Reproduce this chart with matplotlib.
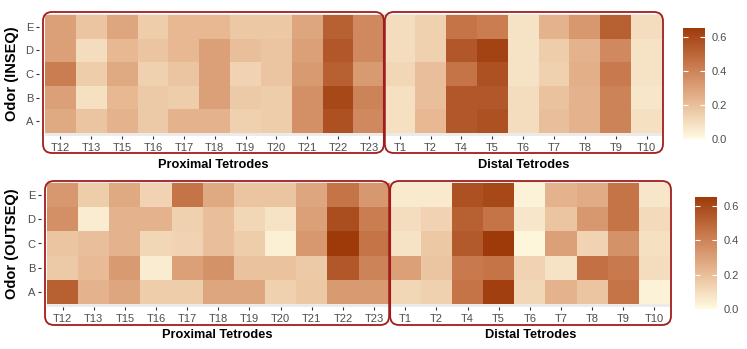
import numpy as np
import matplotlib.pyplot as plt
from matplotlib.colors import LinearSegmentedColormap
from matplotlib.patches import FancyBboxPatch
from matplotlib.transforms import IdentityTransform

plt.rcParams['font.family'] = ['Liberation Sans', 'DejaVu Sans']

proximal = ["T12", "T13", "T15", "T16", "T17", "T18", "T19", "T20", "T21", "T22", "T23"]
distal = ["T1", "T2", "T4", "T5", "T6", "T7", "T8", "T9", "T10"]
odors = ["A", "B", "C", "D", "E"]

# rows: odor A..E
inseq_prox = [
    [0.27, 0.18, 0.24, 0.16, 0.24, 0.24, 0.14, 0.15, 0.36, 0.57, 0.38],
    [0.30, 0.09, 0.22, 0.16, 0.15, 0.30, 0.16, 0.15, 0.36, 0.60, 0.40],
    [0.42, 0.15, 0.27, 0.14, 0.18, 0.30, 0.13, 0.18, 0.32, 0.52, 0.32],
    [0.30, 0.10, 0.22, 0.18, 0.22, 0.30, 0.20, 0.18, 0.30, 0.55, 0.38],
    [0.30, 0.18, 0.28, 0.15, 0.22, 0.22, 0.17, 0.17, 0.28, 0.52, 0.38],
]
inseq_dist = [
    [0.09, 0.22, 0.55, 0.57, 0.10, 0.20, 0.24, 0.40, 0.09],
    [0.09, 0.20, 0.55, 0.55, 0.10, 0.19, 0.24, 0.40, 0.07],
    [0.12, 0.20, 0.45, 0.57, 0.08, 0.14, 0.25, 0.43, 0.08],
    [0.10, 0.14, 0.55, 0.62, 0.08, 0.15, 0.24, 0.38, 0.08],
    [0.10, 0.14, 0.45, 0.42, 0.08, 0.24, 0.33, 0.52, 0.10],
]
outseq_prox = [
    [0.52, 0.24, 0.28, 0.15, 0.15, 0.28, 0.28, 0.14, 0.17, 0.32, 0.32],
    [0.16, 0.21, 0.32, 0.05, 0.30, 0.35, 0.19, 0.19, 0.16, 0.55, 0.40],
    [0.18, 0.20, 0.24, 0.12, 0.13, 0.20, 0.15, 0.04, 0.33, 0.66, 0.45],
    [0.36, 0.05, 0.24, 0.24, 0.14, 0.20, 0.12, 0.08, 0.30, 0.58, 0.42],
    [0.33, 0.15, 0.27, 0.13, 0.45, 0.27, 0.18, 0.18, 0.28, 0.45, 0.33],
]
outseq_dist = [
    [0.12, 0.14, 0.45, 0.63, 0.12, 0.24, 0.18, 0.45, 0.03],
    [0.30, 0.18, 0.43, 0.45, 0.13, 0.08, 0.46, 0.43, 0.10],
    [0.08, 0.17, 0.54, 0.65, 0.02, 0.30, 0.13, 0.35, 0.09],
    [0.10, 0.13, 0.52, 0.45, 0.07, 0.18, 0.33, 0.45, 0.11],
    [0.06, 0.06, 0.57, 0.60, 0.03, 0.24, 0.26, 0.45, 0.07],
]

W, H = 747, 349
cmap = LinearSegmentedColormap.from_list("ylbr", ["#FFFBE2", "#E7B993", "#C8794D", "#9E3A0A"])
box_color = "#A11D1D"
tick_grey = "#4D4D4D"

fig = plt.figure(figsize=(W / 100, H / 100), dpi=100)


def panel(values, ylabel, left, right, top, bottom, box_top, box_bottom, label_y, cbar):
    row_h = (bottom - top) / 5
    ax = fig.add_axes([left / W, 1 - (bottom + 3) / H, (right - left) / W, (bottom + 3 - top + 1) / H])
    mesh = ax.pcolormesh(np.arange(21) - 0.5, np.arange(6) - 0.5, values,
                         cmap=cmap, vmin=0, vmax=0.65)
    ax.set_facecolor("#EBEBEB")
    ax.set_xlim(-0.5, 19.5)
    ax.set_ylim(-0.5 - 3 / row_h, 4.5 + 1 / row_h)
    for s in ax.spines.values():
        s.set_visible(False)
    ax.spines['left'].set_position(('outward', 4.3))
    ax.set_xticks(range(20))
    ax.set_xticklabels(proximal + distal)
    ax.set_yticks(range(5))
    ax.set_yticklabels(odors)
    ax.tick_params(axis='both', labelsize=8, labelcolor=tick_grey, color="#333333",
                   length=2.2, width=0.8)
    ax.tick_params(axis='x', pad=2.5)
    ax.tick_params(axis='y', pad=2)
    fig.text(12 / W, 1 - (top + bottom) / 2 / H, ylabel, rotation=90, fontsize=10.5,
             fontweight='bold', ha='center', va='center')

    colw = (right - left) / 20
    mid = left + 11 * colw
    for x0, x1, name in [(left - 2, mid - 0.5, "Proximal Tetrodes"), (mid + 0.5, right + 1, "Distal Tetrodes")]:
        box = FancyBboxPatch((x0, H - box_bottom), x1 - x0, box_bottom - box_top,
                             boxstyle="round,pad=0,rounding_size=9", transform=IdentityTransform(),
                             fill=False, edgecolor=box_color, linewidth=1.3, zorder=10)
        fig.add_artist(box)
        fig.text((x0 + x1) / 2 / W, 1 - label_y / H, name, fontsize=9.2, fontweight='bold',
                 ha='center', va='center')

    cx0, cx1, cy0, cy1 = cbar
    cax = fig.add_axes([cx0 / W, 1 - cy1 / H, (cx1 - cx0) / W, (cy1 - cy0) / H])
    cb = fig.colorbar(mesh, cax=cax)
    cb.outline.set_visible(False)
    cb.set_ticks([0.0, 0.2, 0.4, 0.6])
    cb.set_ticklabels(["0.0", "0.2", "0.4", "0.6"])
    cax.yaxis.set_ticks_position('both')
    cax.tick_params(axis='y', direction='in', color='white', length=3.5, width=0.8,
                    labelsize=8, labelcolor=tick_grey, pad=5, labelleft=False, labelright=True)
    return ax


panel(np.hstack([inseq_prox, inseq_dist]), "Odor (INSEQ)", 45, 662, 15, 133, 12, 153, 165,
      (683, 705, 28, 139))
panel(np.hstack([outseq_prox, outseq_dist]), "Odor (OUTSEQ)", 47, 670, 183, 304, 181, 325, 335,
      (695, 717, 197, 309))

fig.savefig("out.png", dpi=100)
